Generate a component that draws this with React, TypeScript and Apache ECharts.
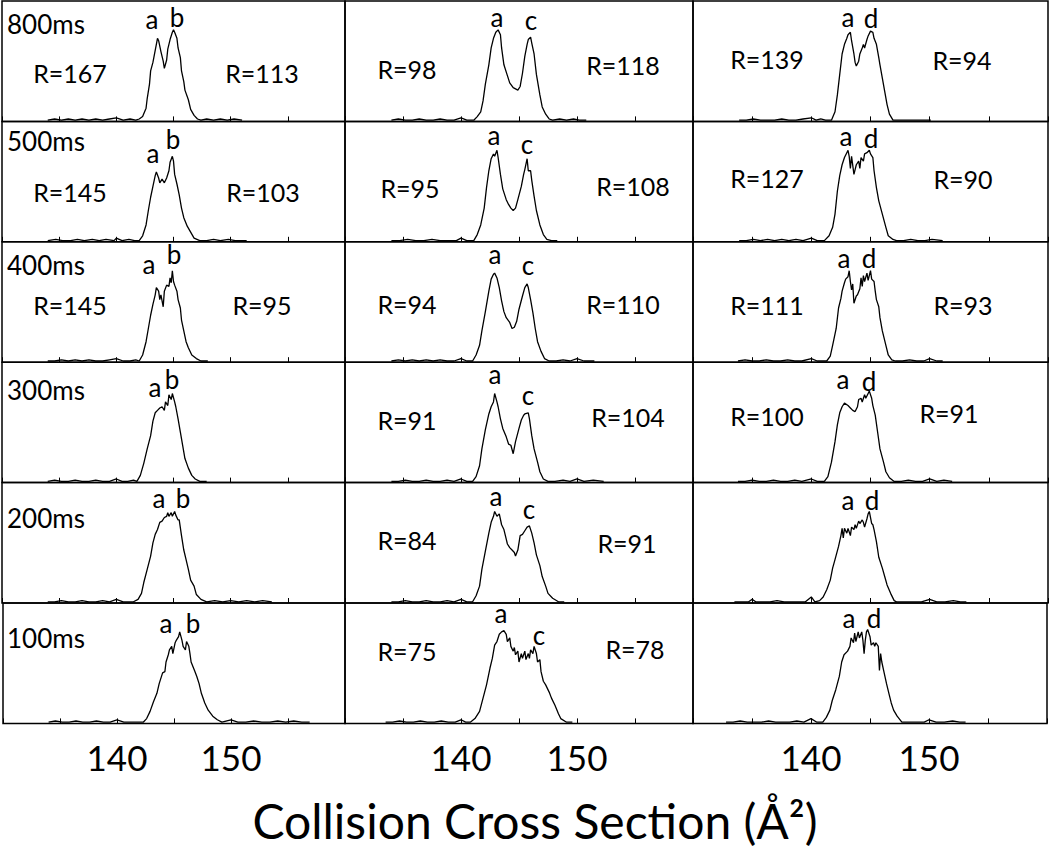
import React, { useEffect, useRef } from 'react';
import * as echarts from 'echarts';

// ---------- data (x: collision cross section in Å², y: relative intensity %) ----------
const timeLabels = ['800ms', '500ms', '400ms', '300ms', '200ms', '100ms'];
const peakNames = [['a', 'b'], ['a', 'c'], ['a', 'd']];
const rLeft = [
  ['R=167', 'R=145', 'R=145', '', '', ''],
  ['R=98', 'R=95', 'R=94', 'R=91', 'R=84', 'R=75'],
  ['R=139', 'R=127', 'R=111', 'R=100', '', ''],
];
const rRight = [
  ['R=113', 'R=103', 'R=95', '', '', ''],
  ['R=118', 'R=108', 'R=110', 'R=104', 'R=91', 'R=78'],
  ['R=94', 'R=90', 'R=93', 'R=91', '', ''],
];
const xTickLabels = [140, 150];
const xAxisTitle = 'Collision Cross Section (Å²)';

const c1_800 = [[134.0,1],[134.6,2],[135.2,1],[135.8,2],[136.4,1],[137.0,2],[137.6,1],[138.2,2],[138.8,1],[139.4,2],[140.0,3],[140.6,1],[141.2,2],[141.7,1],[142.0,2],[142.3,4],[142.6,11],[142.7,19],[142.9,31],[143.0,42],[143.2,49],[143.3,54],[143.5,64],[143.6,69],[143.7,67],[143.9,58],[144.1,50],[144.2,44],[144.4,51],[144.5,60],[144.7,68],[144.9,74],[145.0,76],[145.1,74],[145.3,69],[145.4,61],[145.6,53],[145.7,42],[145.9,33],[146.0,26],[146.3,18],[146.5,10],[146.8,5],[147.1,2],[147.4,1],[147.9,2],[148.5,1],[149.1,2],[149.7,1],[150.3,2],[151.0,1]];
const c1_500 = [[134.0,1],[134.7,2],[135.3,1],[136.0,1],[136.6,2],[137.2,1],[137.9,2],[138.5,1],[139.1,2],[139.8,1],[140.0,3],[140.5,1],[141.1,2],[141.6,1],[142.0,1],[142.3,5],[142.6,14],[142.8,26],[143.0,37],[143.2,46],[143.4,55],[143.5,58],[143.7,53],[143.8,49],[144.0,52],[144.2,49],[144.4,53],[144.6,59],[144.7,66],[144.9,71],[145.0,67],[145.1,56],[145.3,48],[145.5,39],[145.7,28],[145.9,20],[146.2,13],[146.5,8],[146.8,3],[147.3,1],[147.9,1],[148.5,2],[149.1,1],[149.8,2],[150.4,1],[151.4,1]];
const c1_400 = [[134.0,1],[134.6,1],[135.2,2],[135.8,1],[136.4,2],[137.0,1],[137.6,2],[138.2,1],[138.8,1],[139.4,2],[140.0,3],[140.6,1],[141.2,1],[141.7,2],[142.0,1],[142.3,6],[142.6,17],[142.8,28],[143.0,39],[143.2,48],[143.4,56],[143.5,62],[143.7,59],[143.8,52],[143.9,56],[144.1,46],[144.2,59],[144.4,64],[144.6,63],[144.7,70],[144.8,66],[144.9,76],[145.0,67],[145.1,64],[145.3,59],[145.4,52],[145.6,45],[145.7,35],[145.9,26],[146.1,17],[146.3,12],[146.6,6],[147.0,3],[147.4,1],[148.0,1]];
const c1_300 = [[134.0,1],[134.6,2],[135.2,1],[135.8,1],[136.4,2],[137.0,1],[137.6,1],[138.2,2],[138.8,1],[139.4,1],[140.0,3],[140.5,1],[141.0,1],[141.5,2],[141.8,1],[142.1,6],[142.4,16],[142.7,28],[143.0,39],[143.2,51],[143.4,58],[143.6,60],[143.8,62],[144.0,63],[144.2,60],[144.3,67],[144.5,64],[144.6,73],[144.8,69],[144.9,74],[145.1,67],[145.2,63],[145.4,53],[145.6,42],[145.8,31],[146.0,20],[146.3,12],[146.6,6],[146.9,3],[147.3,1],[147.9,1]];
const c1_200 = [[134.0,1],[134.6,1],[135.2,2],[135.8,1],[136.4,1],[137.0,2],[137.6,1],[138.2,1],[138.8,2],[139.4,1],[140.0,3],[140.6,1],[141.0,1],[141.5,1],[141.9,3],[142.2,8],[142.4,17],[142.7,28],[143.0,39],[143.2,50],[143.4,57],[143.6,61],[143.8,67],[144.0,68],[144.2,71],[144.4,72],[144.5,75],[144.6,72],[144.8,75],[144.9,72],[145.1,76],[145.2,73],[145.4,69],[145.5,69],[145.7,56],[145.9,44],[146.1,36],[146.3,28],[146.5,19],[146.8,14],[147.0,7],[147.4,3],[147.9,1],[148.6,2],[149.3,1],[150.0,2],[150.7,1],[151.4,2],[152.1,1],[152.8,2],[153.6,1]];
const c1_100 = [[134.0,1],[134.6,2],[135.2,1],[135.8,1],[136.4,2],[137.0,1],[137.6,1],[138.2,2],[138.8,1],[139.4,1],[140.0,3],[140.6,1],[141.2,1],[141.8,1],[142.3,1],[142.6,4],[142.9,10],[143.2,18],[143.5,25],[143.7,33],[144.0,42],[144.2,43],[144.3,51],[144.5,57],[144.6,61],[144.8,64],[144.9,58],[145.1,67],[145.2,69],[145.4,72],[145.5,76],[145.7,69],[145.8,64],[146.0,61],[146.1,68],[146.3,64],[146.4,58],[146.5,51],[146.8,44],[147.0,39],[147.2,33],[147.4,25],[147.7,17],[148.0,11],[148.4,6],[148.8,3],[149.2,1],[150.0,3],[150.6,1],[151.3,1],[152.0,2],[152.7,1],[153.4,1],[154.1,2],[154.8,1],[155.5,2],[156.2,1],[156.9,1]];

const c2_800 = [[134.0,1],[134.6,2],[135.2,1],[135.8,1],[136.4,2],[137.0,1],[137.6,1],[138.2,2],[138.8,1],[139.4,1],[140.0,3],[140.5,1],[141.1,1],[141.4,4],[141.7,8],[141.9,17],[142.1,31],[142.4,47],[142.6,61],[142.8,69],[143.0,74],[143.2,76],[143.4,72],[143.5,61],[143.7,47],[144.0,38],[144.2,32],[144.5,28],[144.7,27],[144.9,26],[145.1,29],[145.3,40],[145.5,54],[145.7,64],[145.8,68],[146.0,70],[146.1,65],[146.3,56],[146.5,39],[146.8,22],[147.0,12],[147.3,6],[147.6,2],[147.9,1],[148.5,2],[149.1,1],[149.7,2],[150.2,1],[150.8,1]];
const c2_500 = [[134.0,1],[134.7,1],[135.4,2],[136.1,1],[136.8,1],[137.5,2],[138.2,1],[138.9,1],[139.6,1],[140.0,3],[140.5,1],[141.1,1],[141.4,6],[141.7,14],[142.0,28],[142.2,45],[142.4,59],[142.6,69],[142.8,73],[142.9,71],[143.1,76],[143.2,70],[143.4,56],[143.6,44],[143.9,35],[144.1,31],[144.3,28],[144.5,26],[144.7,28],[144.9,35],[145.2,46],[145.4,56],[145.5,60],[145.7,69],[145.8,59],[146.0,59],[146.1,51],[146.3,38],[146.5,26],[146.8,14],[147.1,6],[147.4,2],[147.8,1],[148.3,1]];
const c2_400 = [[134.0,1],[134.6,2],[135.2,1],[135.8,2],[136.4,1],[137.0,2],[137.6,1],[138.2,2],[138.8,1],[139.4,1],[140.0,3],[140.5,1],[141.0,1],[141.3,6],[141.6,14],[141.8,26],[142.1,42],[142.4,59],[142.6,69],[142.8,73],[142.9,74],[143.1,70],[143.3,62],[143.5,51],[143.7,42],[143.9,37],[144.2,33],[144.4,28],[144.6,29],[144.8,34],[145.0,44],[145.3,55],[145.5,62],[145.7,65],[145.8,62],[146.0,52],[146.2,41],[146.4,28],[146.6,17],[146.9,9],[147.2,3],[147.6,1],[148.2,1],[148.8,2],[149.4,1],[150.0,3],[150.6,1],[151.5,1]];
const c2_300 = [[134.0,1],[134.6,1],[135.2,2],[135.8,1],[136.4,1],[137.0,2],[137.6,1],[138.2,1],[138.8,2],[139.4,1],[140.0,3],[140.5,1],[141.0,1],[141.3,5],[141.6,14],[141.8,28],[142.1,44],[142.4,57],[142.6,63],[142.8,67],[142.9,74],[143.1,67],[143.2,63],[143.4,53],[143.6,45],[143.9,38],[144.1,32],[144.3,31],[144.5,24],[144.7,34],[145.0,45],[145.2,52],[145.4,56],[145.5,57],[145.8,58],[145.9,53],[146.1,39],[146.3,28],[146.6,17],[146.8,9],[147.1,3],[147.5,1],[148.1,1],[148.8,2],[149.4,1],[150.0,3],[150.6,1],[151.4,2],[152.3,1]];
const c2_200 = [[134.0,1],[134.6,1],[135.2,2],[135.8,1],[136.4,1],[137.0,2],[137.6,1],[138.2,1],[138.8,2],[139.4,1],[140.0,3],[140.5,1],[141.0,1],[141.3,6],[141.6,14],[141.8,28],[142.1,43],[142.4,58],[142.6,67],[142.8,72],[142.9,76],[143.1,72],[143.3,74],[143.5,65],[143.7,61],[143.9,53],[144.0,49],[144.2,46],[144.4,44],[144.6,42],[144.7,39],[144.9,44],[145.1,56],[145.3,57],[145.5,60],[145.7,63],[145.9,64],[146.1,58],[146.3,50],[146.5,40],[146.8,31],[147.0,22],[147.3,14],[147.5,8],[147.9,4],[148.4,1],[148.9,1]];
const c2_100 = [[133.5,1],[134.1,1],[134.7,2],[135.3,1],[135.9,1],[136.5,2],[137.1,1],[137.7,1],[138.3,2],[138.9,1],[139.5,1],[140.0,3],[140.4,1],[140.8,1],[141.2,4],[141.6,10],[141.9,21],[142.2,32],[142.5,46],[142.7,54],[142.9,65],[143.1,68],[143.3,74],[143.5,76],[143.7,77],[143.9,74],[144.0,68],[144.2,71],[144.3,64],[144.5,60],[144.6,63],[144.7,57],[144.9,60],[145.0,51],[145.2,58],[145.3,54],[145.5,60],[145.6,53],[145.8,58],[145.9,54],[146.0,61],[146.2,58],[146.3,64],[146.5,58],[146.6,51],[146.8,53],[146.9,43],[147.1,35],[147.3,32],[147.6,26],[147.8,21],[148.1,15],[148.4,8],[148.6,4],[149.1,1],[149.6,1]];

const c3_800 = [[133.9,1],[134.5,1],[135.1,2],[135.7,1],[136.3,1],[136.9,1],[137.5,2],[138.1,1],[138.7,1],[139.3,2],[140.0,3],[140.4,1],[140.8,2],[141.2,1],[141.7,1],[142.0,8],[142.2,22],[142.4,39],[142.6,56],[142.8,64],[143.0,69],[143.1,72],[143.3,74],[143.4,67],[143.6,56],[143.7,49],[143.8,46],[144.0,50],[144.1,56],[144.3,61],[144.4,64],[144.5,61],[144.7,68],[144.8,71],[145.0,75],[145.2,74],[145.3,69],[145.5,64],[145.7,53],[145.8,47],[146.0,36],[146.2,25],[146.4,14],[146.6,6],[146.9,1],[147.5,1],[148.1,1],[148.7,1],[149.3,1],[150.1,1]];
const c3_500 = [[133.9,1],[134.5,1],[135.1,2],[135.7,1],[136.3,2],[136.9,1],[137.5,2],[138.1,1],[138.7,2],[139.3,1],[140.0,3],[140.5,1],[141.1,1],[141.5,5],[141.8,12],[142.0,23],[142.2,42],[142.4,55],[142.6,64],[142.8,70],[143.0,74],[143.1,76],[143.2,71],[143.3,61],[143.4,71],[143.6,56],[143.7,60],[143.8,64],[144.0,67],[144.1,61],[144.2,70],[144.4,67],[144.5,73],[144.7,74],[144.9,76],[145.0,73],[145.2,70],[145.3,59],[145.5,45],[145.7,34],[146.0,23],[146.3,12],[146.5,5],[146.9,2],[147.2,1],[147.8,1],[148.4,2],[149.0,1],[149.6,1],[150.2,2],[151.1,1]];
const c3_400 = [[133.8,1],[134.4,2],[135.0,1],[135.6,1],[136.2,2],[136.8,1],[137.4,1],[138.0,2],[138.6,1],[139.2,1],[140.0,3],[140.5,1],[141.0,1],[141.3,1],[141.6,5],[141.8,14],[142.1,28],[142.3,45],[142.5,53],[142.6,59],[142.8,66],[142.9,69],[143.1,71],[143.2,76],[143.3,67],[143.4,60],[143.5,65],[143.6,49],[143.8,55],[143.9,56],[144.1,61],[144.2,70],[144.3,63],[144.4,72],[144.5,67],[144.7,74],[144.8,68],[145.0,76],[145.1,69],[145.3,67],[145.4,59],[145.5,52],[145.7,46],[145.8,37],[146.0,26],[146.3,14],[146.5,6],[146.8,2],[147.1,1],[147.7,1],[148.3,2],[148.9,1],[149.5,1],[150.0,3],[150.6,1],[151.1,1]];
const c3_300 = [[133.8,1],[134.4,1],[135.0,2],[135.6,1],[136.2,1],[136.8,2],[137.4,1],[138.0,1],[138.6,2],[139.2,1],[140.0,3],[140.5,1],[141.1,1],[141.4,5],[141.7,17],[142.0,34],[142.2,48],[142.4,58],[142.6,63],[142.8,66],[143.1,64],[143.3,62],[143.5,60],[143.7,59],[143.9,63],[144.0,69],[144.2,70],[144.3,67],[144.5,73],[144.6,70],[144.8,74],[144.9,76],[145.1,70],[145.2,64],[145.4,56],[145.6,42],[145.8,28],[146.1,17],[146.3,9],[146.6,4],[147.0,1],[147.6,1],[148.2,2],[148.8,1],[149.4,1],[150.0,3],[150.6,1],[151.2,2],[151.9,1]];
const c3_200 = [[133.5,1],[134.1,1],[134.7,1],[135.0,3],[135.3,1],[135.9,1],[136.5,1],[137.1,2],[137.7,1],[138.3,1],[138.9,1],[139.5,1],[140.0,5],[140.3,1],[140.7,2],[141.0,5],[141.3,11],[141.6,19],[141.8,29],[142.0,36],[142.3,47],[142.5,56],[142.6,62],[142.7,54],[142.8,62],[143.0,58],[143.1,62],[143.3,56],[143.4,63],[143.6,61],[143.7,65],[143.8,62],[144.0,68],[144.1,66],[144.3,69],[144.4,67],[144.5,63],[144.7,70],[144.8,74],[144.9,76],[145.1,66],[145.2,65],[145.3,61],[145.5,51],[145.7,38],[146.0,29],[146.2,22],[146.4,15],[146.7,8],[147.0,2],[147.2,1],[147.9,1],[148.6,1],[149.3,1],[150.0,3],[150.6,1],[151.3,1],[152.0,2],[152.6,1],[153.1,1]];
const c3_100 = [[132.8,1],[133.4,1],[134.0,2],[134.6,1],[135.2,1],[135.8,1],[136.4,2],[137.0,1],[137.6,1],[138.2,1],[138.8,2],[139.4,1],[140.0,4],[140.5,1],[141.0,1],[141.3,5],[141.6,11],[141.8,19],[142.1,28],[142.4,39],[142.6,51],[142.8,57],[143.1,60],[143.3,64],[143.4,71],[143.6,67],[143.7,75],[143.8,68],[144.0,76],[144.1,71],[144.3,76],[144.4,69],[144.5,58],[144.6,69],[144.7,76],[144.8,78],[145.0,72],[145.1,65],[145.3,67],[145.4,64],[145.5,67],[145.7,64],[145.8,44],[145.9,58],[146.0,51],[146.2,42],[146.4,33],[146.6,25],[146.8,17],[147.0,11],[147.3,6],[147.7,1],[148.3,1],[149.0,1],[149.6,1],[150.0,3],[150.6,1],[151.3,1],[152.0,2],[152.6,1],[153.1,1]];

const columns = [
  [c1_800, c1_500, c1_400, c1_300, c1_200, c1_100],
  [c2_800, c2_500, c2_400, c2_300, c2_200, c2_100],
  [c3_800, c3_500, c3_400, c3_300, c3_200, c3_100],
];

// ---------- layout (pixels) ----------
const colLeft = [2, 345, 693];
const colWidth = [343, 348, 355];
const rowTop0 = 1;
const rowH = 120.4;
const FONT = 'Lato, "Open Sans", sans-serif';

// peak letter centres [[x1,y1],[x2,y2]] per column/row
const peakPos = [
  [[[152, 19], [177, 17]], [[153, 153], [173, 139]], [[149, 264], [174, 254]], [[155, 387], [172, 379]], [[159, 498], [183, 498]], [[166, 623], [193, 623]]],
  [[[497, 17], [531, 20]], [[494, 135], [527, 144]], [[495, 254], [528, 265]], [[495, 374], [528, 395]], [[496, 496], [529, 509]], [[501, 613], [539, 635]]],
  [[[848, 17], [871, 18]], [[846, 136], [871, 138]], [[844, 258], [869, 258]], [[843, 379], [869, 381]], [[848, 500], [872, 500]], [[849, 618], [874, 618]]],
];
// R label centres [[left],[right]]
const rPos = [
  [[[70, 73], [262, 73]], [[70, 192], [263, 192]], [[70, 305], [262, 305]], null, null, null],
  [[[407, 69], [623, 65]], [[410, 188], [633, 186]], [[407, 304], [623, 304]], [[407, 420], [628, 417]], [[407, 540], [627, 543]], [[407, 651], [635, 649]]],
  [[[767, 59], [962, 60]], [[767, 178], [963, 179]], [[767, 305], [963, 305]], [[767, 416], [949, 413]], null, null],
];
const timeY = [24, 141, 265, 390, 518, 638];

function txt(text: string, x: number, y: number, size: number, align = 'center') {
  return {
    type: 'text',
    x,
    y,
    silent: true,
    style: {
      text,
      fontSize: size,
      fontFamily: FONT,
      fill: '#000',
      align,
      verticalAlign: 'middle',
      textAlign: align,
      textVerticalAlign: 'middle',
    },
  };
}

export default function App() {
  const ref = useRef<HTMLDivElement>(null);
  useEffect(() => {
    if (!ref.current) return;
    const chart = echarts.init(ref.current, undefined, { renderer: 'svg' });
    const grids: any[] = [];
    const xAxes: any[] = [];
    const yAxes: any[] = [];
    const series: any[] = [];
    const graphics: any[] = [];
    columns.forEach((col, c) => {
      col.forEach((data, r) => {
        const i = grids.length;
        grids.push({
          left: colLeft[c],
          top: rowTop0 + r * rowH,
          width: colWidth[c],
          height: rowH,
          show: true,
          borderColor: '#000',
          borderWidth: 1.5,
          backgroundColor: 'transparent',
          containLabel: false,
        });
        xAxes.push({
          type: 'value',
          gridIndex: i,
          min: 130,
          max: 160,
          interval: 5,
          axisLine: { show: false },
          splitLine: { show: false },
          axisTick: { show: true, inside: true, length: 5, lineStyle: { color: '#000', width: 1 } },
          axisLabel: {
            show: r === col.length - 1,
            margin: 16,
            fontSize: 35,
            fontFamily: FONT,
            color: '#000',
            formatter: (v: number) => (xTickLabels.includes(v) ? String(v) : ''),
          },
        });
        yAxes.push({ type: 'value', gridIndex: i, min: 0, max: 100, show: false });
        series.push({
          type: 'line',
          xAxisIndex: i,
          yAxisIndex: i,
          data,
          showSymbol: false,
          symbol: 'none',
          silent: true,
          lineStyle: { color: '#000', width: 1.3 },
        });
        const pk = peakPos[c][r];
        graphics.push(txt(peakNames[c][0], pk[0][0], pk[0][1], 26));
        graphics.push(txt(peakNames[c][1], pk[1][0], pk[1][1], 26));
        const rp = rPos[c][r];
        if (rp && rLeft[c][r]) graphics.push(txt(rLeft[c][r], rp[0][0], rp[0][1], 25));
        if (rp && rRight[c][r]) graphics.push(txt(rRight[c][r], rp[1][0], rp[1][1], 25));
        if (c === 0) graphics.push(txt(timeLabels[r], 7, timeY[r], 26, 'left'));
      });
    });
    graphics.push(txt(xAxisTitle, 535, 820, 48));
    chart.setOption({
      animation: false,
      backgroundColor: '#fff',
      grid: grids,
      xAxis: xAxes,
      yAxis: yAxes,
      series,
      graphic: { elements: graphics },
    });
    return () => chart.dispose();
  }, []);
  return (
    <div
      ref={ref}
      style={{ position: 'fixed', left: 0, top: 0, width: 1050, height: 849, background: '#fff' }}
    />
  );
}
